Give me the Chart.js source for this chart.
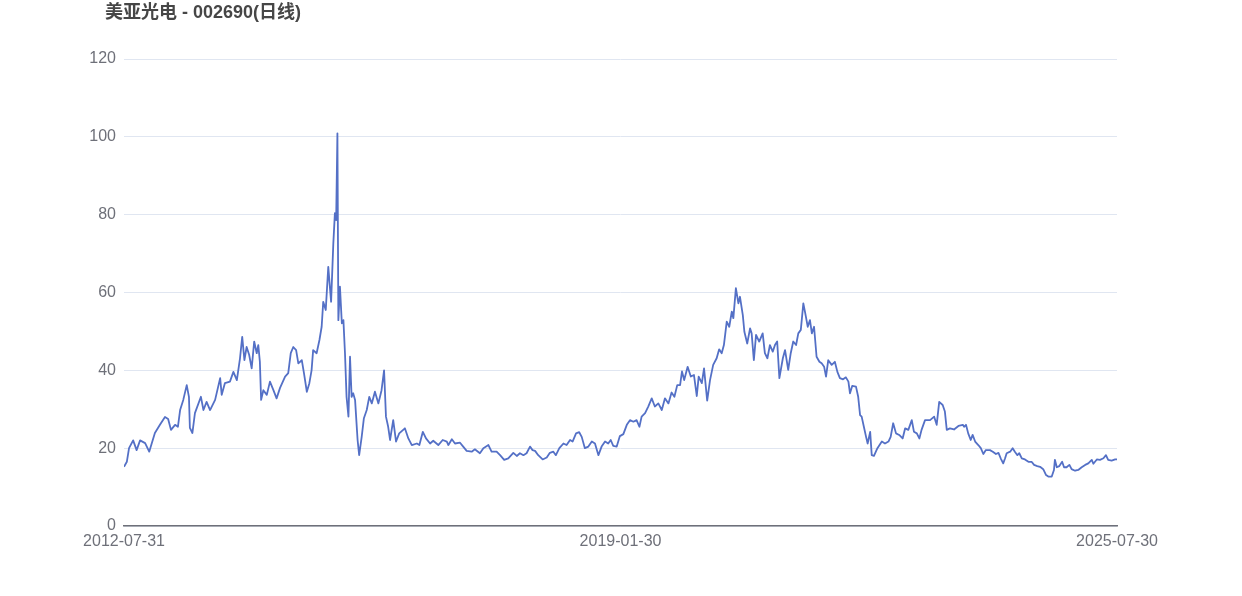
<!DOCTYPE html>
<html>
<head>
<meta charset="utf-8">
<script src="https://cdn.jsdelivr.net/npm/chart.js@4/dist/chart.umd.min.js"></script>
<style>
  html, body { margin: 0; padding: 0; background: #ffffff; }
  #wrap { width: 1242px; height: 596px; }
</style>
</head>
<body>
<div id="wrap"><canvas id="kline"></canvas></div>
<script>
// trading day number (0 = 2012-07-31, 3150 = 2025-07-30) and close price
const tradeDays = [
    0, 9, 16, 29, 40, 51, 67, 80, 98, 114,
    130, 140, 149, 162, 171, 178, 188, 199, 206, 209,
    217, 225, 244, 252, 262, 273, 289, 305, 310, 320,
    336, 347, 358, 368, 375, 382, 389, 397, 405, 413,
    421, 426, 431, 435, 442, 453, 463, 474, 484, 495,
    511, 521, 529, 537, 546, 553, 564, 571, 580, 588,
    595, 600, 611, 620, 627, 632, 640, 648, 653, 657,
    664, 669, 673, 677, 680, 685, 691, 696, 701, 706,
    712, 717, 722, 727, 733, 741, 746, 754, 761, 770,
    778, 786, 796, 807, 817, 825, 831, 838, 844, 854,
    863, 873, 891, 902, 913, 929, 937, 948, 958, 971,
    981, 997, 1011, 1024, 1029, 1040, 1050, 1066, 1076, 1087,
    1103, 1113, 1129, 1140, 1156, 1166, 1182, 1193, 1206, 1219,
    1235, 1246, 1256, 1267, 1277, 1288, 1296, 1304, 1314, 1328,
    1341, 1351, 1362, 1370, 1381, 1394, 1404, 1415, 1423, 1434,
    1444, 1452, 1462, 1473, 1484, 1494, 1505, 1515, 1526, 1536,
    1544, 1552, 1563, 1573, 1584, 1595, 1605, 1616, 1626, 1635,
    1642, 1653, 1663, 1674, 1684, 1695, 1706, 1716, 1727, 1737,
    1746, 1755, 1764, 1770, 1777, 1788, 1798, 1808, 1817, 1823,
    1833, 1840, 1850, 1859, 1869, 1880, 1888, 1896, 1903, 1912,
    1920, 1928, 1933, 1941, 1949, 1954, 1963, 1968, 1977, 1986,
    1991, 1998, 2005, 2015, 2026, 2033, 2041, 2049, 2058, 2065,
    2072, 2079, 2090, 2097, 2107, 2115, 2123, 2132, 2139, 2147,
    2155, 2161, 2169, 2176, 2182, 2189, 2197, 2206, 2213, 2221,
    2227, 2234, 2245, 2255, 2263, 2271, 2281, 2290, 2298, 2303,
    2310, 2322, 2329, 2335, 2340, 2347, 2354, 2359, 2367, 2372,
    2379, 2390, 2404, 2414, 2425, 2432, 2440, 2449, 2459, 2470,
    2478, 2488, 2499, 2506, 2515, 2523, 2530, 2541, 2557, 2570,
    2578, 2586, 2597, 2604, 2610, 2620, 2633, 2647, 2661, 2665,
    2671, 2678, 2686, 2692, 2700, 2710, 2718, 2726, 2734, 2747,
    2756, 2766, 2774, 2781, 2789, 2795, 2800, 2811, 2819, 2826,
    2834, 2840, 2848, 2858, 2869, 2879, 2887, 2897, 2906, 2916,
    2925, 2932, 2943, 2950, 2953, 2959, 2967, 2976, 2982, 2990,
    2999, 3006, 3017, 3027, 3038, 3049, 3059, 3070, 3075, 3086,
    3096, 3107, 3115, 3122, 3133, 3144, 3150
];

const closePrices = [
    15.2, 16.5, 20, 22, 19.5, 22, 21.3, 19.1, 23.9, 26,
    28, 27.5, 24.7, 26, 25.5, 29.8, 32.4, 36.2, 33.2, 25.2,
    23.9, 29, 33.2, 29.8, 31.9, 29.8, 32.4, 38, 33.7, 36.7,
    37.1, 39.6, 37.5, 43.1, 48.6, 42.6, 46, 44, 40.5, 47.4,
    44.4, 46.5, 42.2, 32.4, 34.9, 33.7, 37.1, 34.9, 32.8, 35.5,
    38.4, 39.3, 44.4, 46, 45.2, 41.8, 42.6, 39.2, 34.5, 36.7,
    40, 45.2, 44.4, 47.8, 51.2, 57.6, 55.5, 66.6, 61.5, 57.6,
    72.6, 80.4, 78.6, 100.9, 52.9, 61.5, 52.1, 52.9, 44.4, 33.2,
    28.1, 43.5, 33.2, 34.1, 32.4, 22.1, 18.2, 22.9, 27.7, 29.8,
    33.2, 31.5, 34.5, 31.5, 34.9, 40, 28.1, 25.5, 22.1, 27.2,
    21.7, 23.8, 25.1, 22.5, 20.8, 21.2, 20.8, 24.2, 22.5, 21.2,
    21.9, 20.8, 22.1, 21.7, 20.8, 22.3, 21.2, 21.4, 20.4, 19.3,
    19.1, 19.7, 18.7, 20, 20.8, 19.1, 19.1, 18.2, 17, 17.4,
    18.8, 18, 18.7, 18.2, 18.7, 20.4, 19.5, 19.3, 18.2, 17.1,
    17.6, 18.8, 19.1, 18.2, 20, 21.2, 20.8, 22.1, 21.7, 23.8,
    24.1, 22.9, 20, 20.4, 21.7, 21.2, 18.2, 20.4, 21.7, 21.2,
    22.1, 20.6, 20.4, 23.1, 23.6, 26, 27.2, 26.8, 27.2, 25.5,
    28.1, 29, 30.7, 32.8, 30.7, 31.5, 29.8, 32.8, 31.5, 34.3,
    33.2, 36.2, 36.2, 39.7, 37.5, 40.9, 38.4, 38.8, 33.4, 38.4,
    36.7, 40.5, 32.2, 37.5, 41.4, 43.1, 45.4, 44.4, 46.5, 52.5,
    51.2, 55.1, 53.4, 61.1, 57.2, 58.9, 54.2, 49.9, 46.9, 50.8,
    49.5, 42.6, 49.1, 47.4, 49.5, 44.4, 43.1, 46.5, 44.8, 46.5,
    47.4, 38, 43.1, 45.2, 40.1, 44.4, 47.4, 46.5, 49.5, 50.4,
    57.2, 54.7, 51.2, 52.9, 49.5, 51.2, 43.5, 42.2, 41.8, 40.9,
    38.4, 42.6, 41.4, 42.2, 39.6, 38, 37.7, 38.2, 37.1, 34.1,
    36, 35.8, 33.2, 28.5, 28.1, 25.5, 22.9, 21.2, 24.2, 18.2,
    18, 20, 21.7, 21.2, 21.7, 22.9, 26.4, 23.8, 23.4, 22.5,
    25.1, 24.7, 27.2, 24.2, 23.8, 22.5, 24.7, 27.2, 27.2, 28.1,
    26, 31.9, 31.1, 29.4, 24.7, 25.1, 24.8, 25.7, 26, 25.5,
    26, 23.8, 22.1, 23.4, 21.7, 20.8, 20, 18.5, 19.5, 19.5,
    19.1, 18.5, 18.8, 17.4, 16.1, 17.4, 18.7, 19.1, 20, 19.1,
    18.2, 18.7, 17.4, 17.1, 16.5, 16.5, 15.7, 15.4, 15.2, 14.6,
    13.1, 12.7, 12.7, 14.4, 17, 15.1, 15.4, 16.5, 15.1, 15.1,
    15.7, 14.6, 14.2, 14.4, 15.1, 15.7, 16.1, 17, 16, 17.1,
    17, 17.4, 18.2, 17, 16.8, 17.1, 17.1
];

// x axis: only first, middle and last date are labelled
const tickDays = [0, 1575, 3150];
const tickDates = ['2012-07-31', '2019-01-30', '2025-07-30'];

const chartTitle = '美亚光电 - 002690(日线)';

const fontFamily = "'Liberation Sans', Arial, 'Noto Sans CJK SC', sans-serif";
const labelColor = '#6e7079';

const points = tradeDays.map((d, i) => ({ x: d, y: closePrices[i] }));

// title in the top-left corner, above the y labels
const titlePlugin = {
    id: 'cornerTitle',
    afterDraw(chart) {
        const ctx = chart.ctx;
        ctx.save();
        ctx.font = `bold 18px ${fontFamily}`;
        ctx.fillStyle = '#464646';
        ctx.textAlign = 'left';
        ctx.textBaseline = 'middle';
        ctx.fillText(chartTitle, 105, 13);
        ctx.restore();
    },
};

new Chart(document.getElementById('kline'), {
    type: 'line',
    data: {
        datasets: [{
            label: 'close',
            data: points,
            borderColor: '#5470c6',
            borderWidth: 1.8,
            borderJoinStyle: 'round',
            pointRadius: 0,
            tension: 0,
            fill: false,
        }],
    },
    options: {
        responsive: true,
        maintainAspectRatio: false,
        animation: false,
        layout: { padding: { left: 0, right: 125, top: 59, bottom: 40 } },
        scales: {
            x: {
                type: 'linear',
                min: tickDays[0],
                max: tickDays[tickDays.length - 1],
                afterBuildTicks: (scale) => {
                    scale.ticks = tickDays.map(v => ({ value: v }));
                },
                afterFit: (scale) => {
                    scale.height = 30;
                    scale.paddingLeft = 0;
                    scale.paddingRight = 0;
                },
                ticks: {
                    autoSkip: false,
                    maxRotation: 0,
                    padding: 6,
                    color: labelColor,
                    font: { family: fontFamily, size: 16 },
                    callback: (value) => {
                        const i = tickDays.indexOf(value);
                        return i >= 0 ? tickDates[i] : '';
                    },
                },
                grid: { display: false, drawTicks: false },
                border: { display: true, color: '#6e7079', width: 1.5 },
            },
            y: {
                min: 0,
                max: 120,
                afterFit: (scale) => {
                    scale.width = 124;
                    scale.paddingTop = 0;
                    scale.paddingBottom = 0;
                },
                ticks: {
                    stepSize: 20,
                    padding: 8,
                    color: labelColor,
                    font: { family: fontFamily, size: 16 },
                },
                grid: { color: '#e0e6f1', drawTicks: false },
                border: { display: false },
            },
        },
        plugins: {
            legend: { display: false },
            tooltip: { enabled: false },
            title: { display: false },
        },
    },
    plugins: [titlePlugin],
});
</script>
</body>
</html>
